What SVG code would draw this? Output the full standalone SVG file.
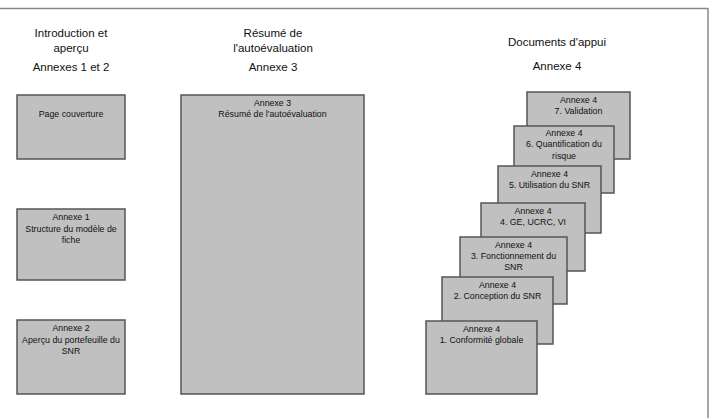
<svg xmlns="http://www.w3.org/2000/svg" width="711" height="418" viewBox="0 0 711 418">
<style>
.box{fill:#c0c0c0;stroke:#555;stroke-width:1.5}
.h{font-family:"Liberation Sans",Arial,sans-serif;font-size:11.5px;fill:#111;text-anchor:middle}
.t{font-family:"Liberation Sans",Arial,sans-serif;font-size:8.8px;fill:#111;text-anchor:middle}
</style>
<rect x="0" y="0" width="711" height="418" fill="#fff"/>
<path d="M0,8.5 H708 V418" fill="none" stroke="#888" stroke-width="1.5"/>
<g id="headers">
<text class="h" x="71" y="37">Introduction et</text>
<text class="h" x="71" y="52">aperçu</text>
<text class="h" x="71" y="71">Annexes 1 et 2</text>
<text class="h" x="273" y="37">Résumé de</text>
<text class="h" x="273" y="52">l'autoévaluation</text>
<text class="h" x="273" y="71">Annexe 3</text>
<text class="h" x="557" y="46">Documents d'appui</text>
<text class="h" x="557" y="70">Annexe 4</text>
</g>
<g id="page-couverture">
<rect class="box" x="17" y="95" width="108" height="64"/>
<text class="t" x="71" y="117">Page couverture</text>
</g>
<g id="annexe1">
<rect class="box" x="17" y="209" width="108" height="71"/>
<text class="t" x="71" y="220">Annexe 1</text>
<text class="t" x="71" y="232">Structure du modèle de</text>
<text class="t" x="71" y="243">fiche</text>
</g>
<g id="annexe2">
<rect class="box" x="17" y="320" width="108" height="74"/>
<text class="t" x="71" y="331">Annexe 2</text>
<text class="t" x="71" y="343">Aperçu du portefeuille du</text>
<text class="t" x="71" y="354">SNR</text>
</g>
<g id="annexe3">
<rect class="box" x="181" y="95" width="183" height="299"/>
<text class="t" x="272.5" y="106">Annexe 3</text>
<text class="t" x="272.5" y="117">Résumé de l'autoévaluation</text>
</g>
<g id="annexe4-7">
<rect class="box" x="527" y="92" width="103" height="67"/>
<text class="t" x="578.5" y="103">Annexe 4</text>
<text class="t" x="578.5" y="114">7. Validation</text>
</g>
<g id="annexe4-6">
<rect class="box" x="514" y="126" width="100" height="67"/>
<text class="t" x="564" y="136">Annexe 4</text>
<text class="t" x="564" y="147">6. Quantification du</text>
<text class="t" x="564" y="159">risque</text>
</g>
<g id="annexe4-5">
<rect class="box" x="498" y="166" width="103" height="67"/>
<text class="t" x="549.5" y="177">Annexe 4</text>
<text class="t" x="549.5" y="188">5. Utilisation du SNR</text>
</g>
<g id="annexe4-4">
<rect class="box" x="481" y="203" width="104" height="68"/>
<text class="t" x="533" y="214">Annexe 4</text>
<text class="t" x="533" y="225">4. GE, UCRC, VI</text>
</g>
<g id="annexe4-3">
<rect class="box" x="460" y="237" width="107" height="67"/>
<text class="t" x="513.5" y="248">Annexe 4</text>
<text class="t" x="513.5" y="259">3. Fonctionnement du</text>
<text class="t" x="513.5" y="270">SNR</text>
</g>
<g id="annexe4-2">
<rect class="box" x="442" y="277" width="111" height="67"/>
<text class="t" x="497.5" y="288">Annexe 4</text>
<text class="t" x="497.5" y="299">2. Conception du SNR</text>
</g>
<g id="annexe4-1">
<rect class="box" x="426" y="321" width="111" height="73"/>
<text class="t" x="481.5" y="332">Annexe 4</text>
<text class="t" x="481.5" y="343">1. Conformité globale</text>
</g>
<g id="connectors"></g>
</svg>
